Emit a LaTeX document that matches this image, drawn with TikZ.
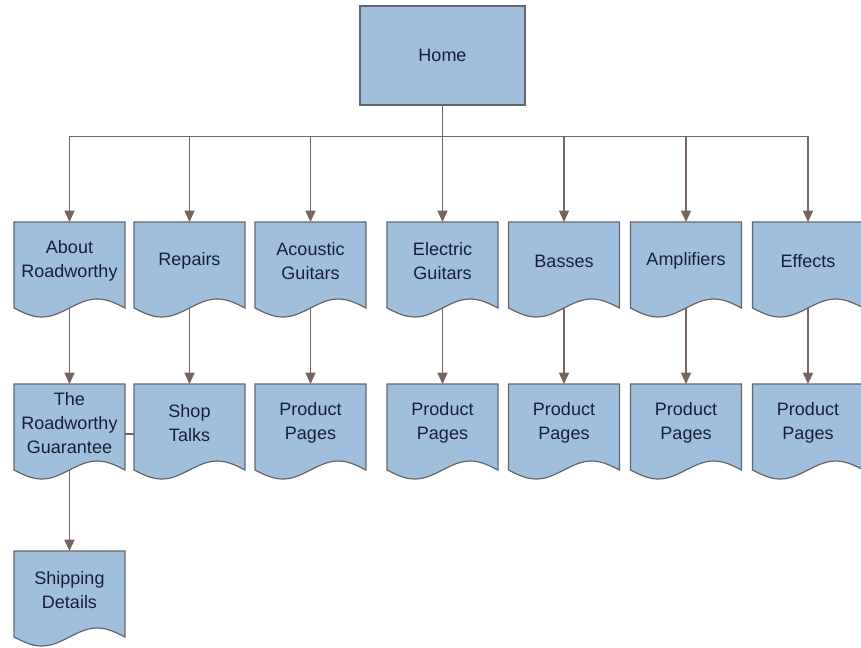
\documentclass[tikz,border=0pt]{standalone}
\usepackage{fontspec}
\setmainfont{Liberation Sans}
\usetikzlibrary{arrows.meta}
\definecolor{pagefill}{RGB}{160,191,221}
\definecolor{pageline}{RGB}{100,102,108}
\definecolor{linkline}{RGB}{118,100,94}
\definecolor{pagetext}{RGB}{22,32,52}
\tikzset{
    sitemap_font/.style={font=\fontsize{13.5}{18}\selectfont, text=pagetext, align=center},
    sitemap_link/.style={draw=linkline, line width=1.1pt, -{Triangle[width=7.5pt,length=8.5pt]}},
    sitemap_home/.style={draw=pageline, line width=0.9pt, fill=pagefill, sitemap_font,
        minimum width=123.75pt, minimum height=74.25pt},
    % Document page: flat top, wavy bottom; origin is the top centre
    sitemap_page/.pic={
        \draw[pageline, line width=0.9pt, fill=pagefill]
            (-55.5,0) -- (55.5,0) -- (55.5,86) sin (27.75,77) cos (0,86)
            sin (-27.75,95) cos (-55.5,86) -- cycle;
        \coordinate (-top) at (0,0);
        \coordinate (-out) at (0,86);
        \node[sitemap_font, inner sep=0pt, minimum width=83.25pt] (-box) at (0,39) {#1};
    },
}
\begin{document}
\begin{tikzpicture}[x=0.75pt, y=-0.75pt]
    \useasboundingbox (0,0) rectangle (861,647);
    % Top level
    \node[sitemap_home] (home) at (442.5,55.5) {Home};

    % Row 1: Sections
    \pic (about)    at (69.5,222)  {sitemap_page={About\\Roadworthy}};
    \pic (repairs)  at (189.5,222) {sitemap_page={Repairs}};
    \pic (acoustic) at (310.5,222) {sitemap_page={Acoustic\\Guitars}};
    \pic (electric) at (442.5,222) {sitemap_page={Electric\\Guitars}};
    \pic (basses)   at (564,222)   {sitemap_page={Basses}};
    \pic (amps)     at (686,222)   {sitemap_page={Amplifiers}};
    \pic (effects)  at (808,222)   {sitemap_page={Effects}};

    % Row 2: Sub pages
    \pic (guarantee) at (69.5,384)  {sitemap_page={The\\Roadworthy\\Guarantee}};
    \pic (shoptalk)  at (189.5,384) {sitemap_page={Shop\\Talks}};
    \pic (acprod)    at (310.5,384) {sitemap_page={Product\\Pages}};
    \pic (elprod)    at (442.5,384) {sitemap_page={Product\\Pages}};
    \pic (baprod)    at (564,384)   {sitemap_page={Product\\Pages}};
    \pic (amprod)    at (686,384)   {sitemap_page={Product\\Pages}};
    \pic (efprod)    at (808,384)   {sitemap_page={Product\\Pages}};

    % Row 3
    \pic (shipping)  at (69.5,551)  {sitemap_page={Shipping\\Details}};

    % Links
    \foreach \p in {about,repairs,acoustic,electric,basses,amps,effects}
        \draw[sitemap_link] (home.south) -- +(0,31) -| (\p-top);
    \draw[sitemap_link] (about-out)    -- (guarantee-top);
    \draw[sitemap_link] (repairs-out)  -- (shoptalk-top);
    \draw[sitemap_link] (acoustic-out) -- (acprod-top);
    \draw[sitemap_link] (electric-out) -- (elprod-top);
    \draw[sitemap_link] (basses-out)   -- (baprod-top);
    \draw[sitemap_link] (amps-out)     -- (amprod-top);
    \draw[sitemap_link] (effects-out)  -- (efprod-top);
    \draw[sitemap_link] (guarantee-out) -- (shipping-top);
    \draw[pageline, line width=0.9pt] ([yshift=-8.25pt]guarantee-box.east) -- ([yshift=-8.25pt]shoptalk-box.west);
\end{tikzpicture}
\end{document}
